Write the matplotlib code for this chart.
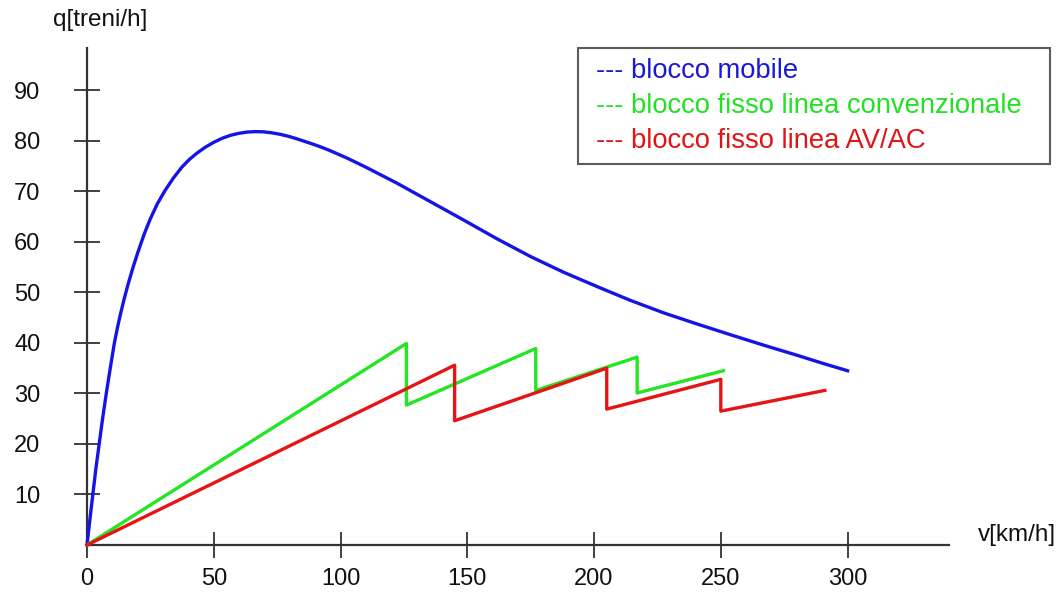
import matplotlib
matplotlib.use("Agg")
import matplotlib.pyplot as plt
from matplotlib.lines import Line2D

plt.rcParams['font.family'] = ['Liberation Sans', 'DejaVu Sans']

# --- data ---
v_mobile = [0, 1.2, 2.3, 3.5, 4.8, 6.2, 7.6, 9.2, 10.8, 12.0, 13.2, 14.7, 16.3, 18.3,
            20.3, 22.6, 24.9, 27.8, 30.8, 34.0, 37.4, 40.3, 43.4, 46.5, 49.9, 53.2,
            56.5, 59.8, 63.1, 66.4, 69.7, 73.0, 76.3, 79.6, 82.9, 86.2, 89.5, 92.8,
            96.0, 102.6, 109.2, 115.8, 122.4, 135, 148.7, 161.8, 175, 188, 201.5,
            214.5, 227.8, 241, 254, 267, 280.5, 290, 300]
q_mobile = [0, 5.3, 10, 15.1, 20, 25.2, 30, 35.1, 40, 43.0, 45.7, 48.8, 51.8, 55.2,
            58.3, 61.6, 64.5, 67.6, 70.2, 72.6, 74.8, 76.3, 77.6, 78.7, 79.7, 80.5,
            81.1, 81.5, 81.75, 81.85, 81.8, 81.6, 81.3, 80.9, 80.4, 79.85, 79.3, 78.7,
            78.05, 76.6, 75.0, 73.3, 71.6, 68.1, 64.3, 60.6, 57.1, 54.0, 51.1,
            48.4, 45.9, 43.7, 41.6, 39.55, 37.5, 36.0, 34.5]

v_conv = [0, 126, 126, 177, 177, 217, 217, 251]
q_conv = [0, 39.9, 27.7, 38.9, 30.6, 37.2, 30.1, 34.5]

v_av = [0, 145, 145, 205, 205, 250, 250, 291]
q_av = [0, 35.6, 24.6, 35.0, 26.9, 32.8, 26.5, 30.6]

x_ticks = [0, 50, 100, 150, 200, 250, 300]
y_ticks = [10, 20, 30, 40, 50, 60, 70, 80, 90]

labels = ["--- blocco mobile",
          "--- blocco fisso linea convenzionale",
          "--- blocco fisso linea AV/AC"]
line_colors = ['#1414e6', '#22e622', '#e61414']
text_colors = ['#1a1ad2', '#22e022', '#e01414']

W, H = 1063, 595
fig = plt.figure(figsize=(W / 100, H / 100), dpi=100)
ax = fig.add_axes([87 / W, (H - 545) / H, (949 - 87) / W, (545 - 48) / H])
ax.set_xlim(0, 340)
ax.set_ylim(0, 98.4)

ax.plot(v_mobile, q_mobile, color=line_colors[0], lw=2.4, clip_on=False, zorder=3,
        solid_joinstyle='round')
ax.plot(v_conv, q_conv, color=line_colors[1], lw=2.4, clip_on=False, zorder=3)
ax.plot(v_av, q_av, color=line_colors[2], lw=2.4, clip_on=False, zorder=4)

for s in ['top', 'right']:
    ax.spines[s].set_visible(False)
for s in ['left', 'bottom']:
    ax.spines[s].set_color('#333333')
    ax.spines[s].set_linewidth(1.6)

ax.set_xticks(x_ticks)
ax.set_yticks(y_ticks)
ax.tick_params(axis='both', direction='inout', length=19, width=1.3,
               color='#333333', labelsize=17, labelcolor='#111111')
ax.tick_params(axis='x', pad=7)
ax.tick_params(axis='y', pad=24)

fig.text(100 / W, 1 - 20 / H, "q[treni/h]", ha='center', va='center',
         fontsize=17.5, color='#111111')
fig.text(1017 / W, 1 - 535 / H, "v[km/h]", ha='center', va='center',
         fontsize=17.5, color='#111111')

handles = [Line2D([], [], color=c, lw=0) for c in line_colors]
leg = ax.legend(handles, labels, loc='upper left', mode='expand',
                bbox_to_anchor=(578 / W, 1 - 165 / H, (1050 - 578) / W, (165 - 48) / H),
                bbox_transform=fig.transFigure,
                handlelength=0, handletextpad=0.3, fontsize=19.7, labelcolor=text_colors,
                frameon=True, fancybox=False, edgecolor='#333333',
                borderpad=0.37, labelspacing=0.32, borderaxespad=0)
leg.get_frame().set_linewidth(1.5)

fig.savefig("out.png", dpi=100)
